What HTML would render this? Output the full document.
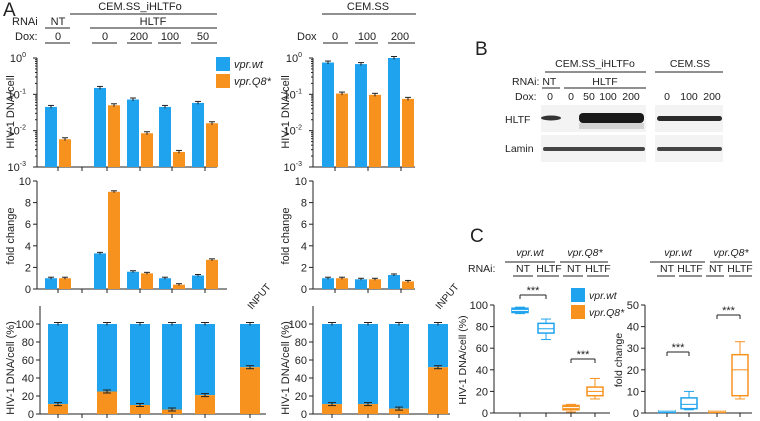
<!DOCTYPE html>
<html><head><meta charset="utf-8"><style>
body{margin:0;background:#fff;}
svg{display:block;font-family:"Liberation Sans",Arial,sans-serif;}
text{fill:#222;}
.it{font-style:italic;}
</style></head><body>
<svg id="fig" width="760" height="421" viewBox="0 0 760 421" xmlns="http://www.w3.org/2000/svg">
<g id="static" font-size="11">
<text x="3" y="16" font-size="19">A</text>
<text x="140" y="10" text-anchor="middle">CEM.SS_iHLTFo</text>
<line x1="70" y1="14" x2="217" y2="14" stroke="#222"/>
<text x="12" y="25">RNAi</text>
<text x="58" y="25" text-anchor="middle">NT</text><line x1="45" y1="28" x2="70" y2="28" stroke="#222"/>
<text x="153" y="25" text-anchor="middle">HLTF</text><line x1="90" y1="28" x2="217" y2="28" stroke="#222"/>
<text x="15" y="40">Dox:</text>
<text x="58" y="40" text-anchor="middle">0</text><line x1="45" y1="43" x2="70" y2="43" stroke="#222"/>
<text x="105" y="40" text-anchor="middle">0</text><line x1="92" y1="43" x2="117" y2="43" stroke="#222"/>
<text x="139" y="40" text-anchor="middle">200</text><line x1="127" y1="43" x2="152" y2="43" stroke="#222"/>
<text x="170" y="40" text-anchor="middle">100</text><line x1="158" y1="43" x2="181" y2="43" stroke="#222"/>
<text x="203" y="40" text-anchor="middle">50</text><line x1="191" y1="43" x2="217" y2="43" stroke="#222"/>
<text x="368" y="10" text-anchor="middle">CEM.SS</text>
<line x1="322" y1="14" x2="416" y2="14" stroke="#222"/>
<text x="297" y="40">Dox</text>
<text x="335" y="40" text-anchor="middle">0</text><line x1="323" y1="43" x2="348" y2="43" stroke="#222"/>
<text x="367" y="40" text-anchor="middle">100</text><line x1="355" y1="43" x2="378" y2="43" stroke="#222"/>
<text x="400" y="40" text-anchor="middle">200</text><line x1="388" y1="43" x2="415" y2="43" stroke="#222"/>
<rect x="216" y="57" width="14" height="14" fill="#1fa3ee"/>
<text x="234" y="68" class="it">vpr.wt</text>
<rect x="216" y="74" width="14" height="14" fill="#f7921e"/>
<text x="234" y="85" class="it">vpr.Q8*</text>
<text transform="translate(14,112) rotate(-90)" text-anchor="middle">HIV-1 DNA/cell</text>
<text transform="translate(14,236) rotate(-90)" text-anchor="middle">fold change</text>
<text transform="translate(14,368) rotate(-90)" text-anchor="middle">HIV-1 DNA/cell (%)</text>
<text transform="translate(289,112) rotate(-90)" text-anchor="middle">HIV-1 DNA/cell</text>
<text transform="translate(289,236) rotate(-90)" text-anchor="middle">fold change</text>
<text transform="translate(289,368) rotate(-90)" text-anchor="middle">HIV-1 DNA/cell (%)</text>
<text transform="translate(252,310) rotate(-50)" font-size="10">INPUT</text>
<text transform="translate(440,310) rotate(-50)" font-size="10">INPUT</text>

<text x="475" y="55" font-size="19">B</text>
<text x="595" y="67" text-anchor="middle" font-size="10.5">CEM.SS_iHLTFo</text>
<line x1="545" y1="72" x2="646" y2="72" stroke="#222"/>
<text x="690" y="67" text-anchor="middle" font-size="10.5">CEM.SS</text>
<line x1="655" y1="72" x2="723" y2="72" stroke="#222"/>
<text x="512" y="85" font-size="10.5">RNAi: NT</text>
<line x1="542" y1="88" x2="560" y2="88" stroke="#222"/>
<text x="605" y="85" text-anchor="middle" font-size="10.5">HLTF</text>
<line x1="564" y1="88" x2="646" y2="88" stroke="#222"/>
<text x="515" y="100" font-size="10.5">Dox:</text>
<g font-size="10.5" text-anchor="middle">
<text x="550" y="100">0</text><text x="571" y="100">0</text><text x="589" y="100">50</text><text x="608" y="100">100</text><text x="631" y="100">200</text>
<text x="667" y="100">0</text><text x="689" y="100">100</text><text x="712" y="100">200</text></g>
<text x="505" y="123" font-size="10.5">HLTF</text>
<text x="505" y="152" font-size="10.5">Lamin</text>
<g>
<rect x="541" y="105" width="105" height="27" fill="#f3f3f3"/>
<rect x="541" y="135" width="105" height="27" fill="#f3f3f3"/>
<rect x="655" y="105" width="68" height="27" fill="#f3f3f3"/>
<rect x="655" y="135" width="68" height="27" fill="#f3f3f3"/>
<ellipse cx="551" cy="118" rx="10" ry="2.5" fill="#333"/>
<rect x="579" y="113" width="65" height="10" rx="4" fill="#1a1a1a"/>
<rect x="579" y="123" width="65" height="6" fill="#d4d4d4"/>
<rect x="657" y="116" width="65" height="5" rx="2.5" fill="#2a2a2a"/>
<rect x="543" y="147" width="102" height="4" rx="2" fill="#444"/>
<rect x="657" y="147" width="65" height="4" rx="2" fill="#444"/>
</g>

<text x="470" y="242" font-size="19">C</text>
<text x="530" y="256" text-anchor="middle" class="it" font-size="10.5">vpr.wt</text>
<line x1="505" y1="262" x2="555" y2="262" stroke="#222"/>
<text x="585" y="256" text-anchor="middle" class="it" font-size="10.5">vpr.Q8*</text>
<line x1="560" y1="262" x2="608" y2="262" stroke="#222"/>
<text x="468" y="272" font-size="10.5">RNAi:</text>
<g font-size="10.5" text-anchor="middle">
<text x="523" y="272">NT</text><line x1="513" y1="276" x2="533" y2="276" stroke="#222"/>
<text x="549" y="272">HLTF</text><line x1="537" y1="276" x2="559" y2="276" stroke="#222"/>
<text x="574" y="272">NT</text><line x1="563" y1="276" x2="583" y2="276" stroke="#222"/>
<text x="598" y="272">HLTF</text><line x1="587" y1="276" x2="609" y2="276" stroke="#222"/>
<text x="678" y="256" class="it">vpr.wt</text><line x1="650" y1="262" x2="705" y2="262" stroke="#222"/>
<text x="731" y="256" class="it">vpr.Q8*</text><line x1="710" y1="262" x2="752" y2="262" stroke="#222"/>
<text x="667" y="272">NT</text><line x1="657" y1="276" x2="675" y2="276" stroke="#222"/>
<text x="690" y="272">HLTF</text><line x1="679" y1="276" x2="702" y2="276" stroke="#222"/>
<text x="716" y="272">NT</text><line x1="706" y1="276" x2="724" y2="276" stroke="#222"/>
<text x="740" y="272">HLTF</text><line x1="729" y1="276" x2="752" y2="276" stroke="#222"/>
</g>
<rect x="571" y="288" width="14" height="14" fill="#1fa3ee"/>
<text x="589" y="299" class="it" font-size="10.5">vpr.wt</text>
<rect x="571" y="305" width="14" height="14" fill="#f7921e"/>
<text x="589" y="316" class="it" font-size="10.5">vpr.Q8*</text>
<text transform="translate(466,360) rotate(-90)" text-anchor="middle" font-size="10.5">HIV-1 DNA/cell (%)</text>
<text transform="translate(622,360) rotate(-90)" text-anchor="middle" font-size="10.5">fold change</text>
</g>
<g id="charts"></g>
</svg>
<script>
// Panel A left
const catsLeft = ["NT-0", "HLTF-0", "HLTF-200", "HLTF-100", "HLTF-50"];
const logWtLeft = [0.045, 0.15, 0.072, 0.045, 0.058];
const logQ8Left = [0.0058, 0.05, 0.0085, 0.0026, 0.016];
const foldWtLeft = [1.0, 3.3, 1.6, 1.0, 1.25];
const foldQ8Left = [1.0, 9.0, 1.45, 0.4, 2.7];
const pctCatsLeft = ["NT-0", "HLTF-0", "HLTF-200", "HLTF-100", "HLTF-50", "INPUT"];
const pctQ8Left = [11, 25, 10, 5, 21, 52];
// Panel A right
const catsRight = ["0", "100", "200"];
const logWtRight = [0.75, 0.68, 1.0];
const logQ8Right = [0.105, 0.097, 0.075];
const foldWtRight = [1.0, 0.9, 1.3];
const foldQ8Right = [1.0, 0.9, 0.7];
const pctCatsRight = ["0", "100", "200", "INPUT"];
const pctQ8Right = [11, 11, 6, 52];
// Panel C boxplots [whiskerLow, q1, median, q3, whiskerHigh]
const boxCats = ["wt-NT", "wt-HLTF", "Q8-NT", "Q8-HLTF"];
const pctBoxes = [[92, 93, 95, 97, 98], [68, 74, 78, 83, 87], [1, 3, 5, 7, 8], [13, 16, 20, 24, 32]];
const foldBoxes = [[1, 1, 1, 1, 1], [1.5, 2, 4, 7, 10], [1, 1, 1, 1, 1], [6.5, 8, 20, 27, 33]];
const logTicks = ["0", "-1", "-2", "-3"];
const foldTicks = [0, 2, 4, 6, 8, 10];
const pctTicks = [0, 20, 40, 60, 80, 100];
const foldCTicks = [0, 10, 20, 30, 40, 50];

const BLUE = "#1fa3ee", ORANGE = "#f7921e";
const NS = "http://www.w3.org/2000/svg";
const root = document.getElementById("charts");
function mk(tag, attrs, parent) {
  const e = document.createElementNS(NS, tag);
  for (const k in attrs) e.setAttribute(k, attrs[k]);
  (parent || root).appendChild(e);
  return e;
}
function line(x1, y1, x2, y2, p, c) { return mk("line", {x1, y1, x2, y2, stroke: c || "#222", "stroke-width": 1}, p); }
function txt(x, y, s, p, anchor, size) { const t = mk("text", {x, y, "text-anchor": anchor || "end", "font-size": size || 11}, p); t.textContent = s; return t; }

function logAxis(ax, top, bot, xEnd, centers, sep) {
  const g = mk("g", {});
  
  
  line(ax, top, ax, bot, g); line(ax, bot, xEnd, bot, g);
  logTicks.forEach((e, i) => {
    const y = top + (bot - top) * i / 3;
    line(ax - 4, y, ax, y, g);
    const t = txt(ax - 11, y + 4, "10", g);
    const s = mk("tspan", {dy: -5, "font-size": 7}, t); s.textContent = e;
    for (let m = 2; m < 10 && i < 3; m++) { const yy = y + (bot - top) / 3 * (1 - Math.log10(m)); line(ax - 2, yy, ax, yy, g); }
  });
  centers.forEach(c => line(c, bot, c, bot + 4, g));
  if (sep) line(sep, bot, sep, bot + 4, g);
}
function logY(v, top, bot) { return top + (0 - Math.log10(v)) * (bot - top) / 3; }
function logBars(vals, color, centers, off, top, bot, name) {
  vals.forEach((v, i) => {
    const y = logY(v, top, bot), x = centers[i] + off;
    const r = mk("rect", {x, y, width: 12, height: bot - y, fill: color});
    
    
    line(x + 3, y - 1.5, x + 9, y - 1.5); line(x + 6, y - 1.5, x + 6, y + 1.5);
  });
}
// axisTop: where the axis line starts; top: y of the max tick
function linAxis(ax, top, bot, xEnd, ticks, centers, sep, axisTop) {
  const g = mk("g", {});
  
  
  line(ax, axisTop === undefined ? top : axisTop, ax, bot, g); line(ax, bot, xEnd, bot, g);
  const max = ticks[ticks.length - 1];
  ticks.forEach(t => { const y = bot - (bot - top) * t / max; line(ax - 4, y, ax, y, g); txt(ax - 6, y + 4, t, g); });
  centers.forEach(c => line(c, bot, c, bot + 4, g));
  if (sep) line(sep, bot, sep, bot + 4, g);
}
function linBars(vals, color, centers, off, top, bot, max, name) {
  vals.forEach((v, i) => {
    const y = bot - (bot - top) * v / max, x = centers[i] + off;
    const r = mk("rect", {x, y, width: 12, height: bot - y, fill: color});
    
    
    line(x + 3, y - 1, x + 9, y - 1); line(x + 6, y - 1, x + 6, y + 1);
  });
}
function pctBars(q8, centers, top, bot, name) {
  q8.forEach((v, i) => {
    const x = centers[i] - 10, yTop = top, yO = bot - (bot - top) * v / 100;
    const b = mk("rect", {x, y: yTop, width: 20, height: yO - yTop, fill: BLUE});
    
    
    const o = mk("rect", {x, y: yO, width: 20, height: bot - yO, fill: ORANGE});
    
    
    line(x + 6, yTop - 1.5, x + 14, yTop - 1.5); line(x + 10, yTop - 1.5, x + 10, yTop + 1.5);
    line(x + 6, yO - 1.5, x + 14, yO - 1.5); line(x + 6, yO + 1.5, x + 14, yO + 1.5); line(x + 10, yO - 1.5, x + 10, yO + 1.5);
  });
}

// Left A
const cL = [58, 107, 140, 172, 205];
logAxis(37, 58, 167, 217, cL, 82);
logBars(logWtLeft, BLUE, cL, -13, 58, 167, 'log-bar-wt');
logBars(logQ8Left, ORANGE, cL, 1, 58, 167, 'log-bar-q8');
linAxis(37, 181, 289, 227, foldTicks, cL, 82);
linBars(foldWtLeft, BLUE, cL, -13, 181, 289, 10, 'fold-bar-wt');
linBars(foldQ8Left, ORANGE, cL, 1, 181, 289, 10, 'fold-bar-q8');
const pL = [58, 107, 140, 172, 205, 250];
linAxis(40, 324, 414, 266, pctTicks, pL, 82, 306);
pctBars(pctQ8Left, pL, 324, 414, 'pct-bar');

// Right A
const cR = [335, 368, 401];
logAxis(313, 58, 167, 415, cR);
logBars(logWtRight, BLUE, cR, -13, 58, 167, 'log-bar-wt-r');
logBars(logQ8Right, ORANGE, cR, 1, 58, 167, 'log-bar-q8-r');
linAxis(313, 181, 289, 415, foldTicks, cR);
linBars(foldWtRight, BLUE, cR, -13, 181, 289, 10, 'fold-bar-wt-r');
linBars(foldQ8Right, ORANGE, cR, 1, 181, 289, 10, 'fold-bar-q8-r');
const pR = [332, 368, 399, 438];
linAxis(313, 324, 414, 450, pctTicks, pR, null, 306);
pctBars(pctQ8Right, pR, 324, 414, 'pct-bar-r');

// Panel C
function boxplot(ax, top, bot, xEnd, ticks, centers, boxes, name) {
  linAxis(ax, top, bot, xEnd, ticks, centers);
  const max = ticks[ticks.length - 1];
  const Y = v => bot - (bot - top) * v / max;
  boxes.forEach((b, i) => {
    const c = centers[i], col = i < 2 ? BLUE : ORANGE;
    const g = mk("g", {stroke: col, "stroke-width": 1.5, fill: "none"});
    
    
    const filled = i % 2 === 0;
    mk("rect", {x: c - 8, y: Y(b[3]), width: 16, height: Math.max(Y(b[1]) - Y(b[3]), 1.5), fill: filled ? col : "#fff"}, g);
    line(c, Y(b[4]), c, Y(b[3]), g, col); line(c, Y(b[1]), c, Y(b[0]), g, col);
    line(c - 5, Y(b[4]), c + 5, Y(b[4]), g, col); line(c - 5, Y(b[0]), c + 5, Y(b[0]), g, col);
    line(c - 8, Y(b[2]), c + 8, Y(b[2]), g, filled ? "#fff" : col);
  });
}
function bracket(x1, x2, y) {
  const g = mk("g", {});
  
  
  line(x1, y, x2, y, g); line(x1, y, x1, y + 4, g); line(x2, y, x2, y + 4, g);
  txt((x1 + x2) / 2, y - 1, "***", g, "middle", 11);
}
const bxL = [520, 546, 571, 595];
boxplot(494, 305, 413, 610, pctTicks, bxL, pctBoxes, 'pct-box');
bracket(520, 546, 295);
bracket(571, 595, 359);
const bxR = [667, 689, 717, 740];
boxplot(645, 305, 413, 752, foldCTicks, bxR, foldBoxes, 'fold-box');
bracket(667, 689, 352);
bracket(717, 740, 315);
</script>
</body></html>
